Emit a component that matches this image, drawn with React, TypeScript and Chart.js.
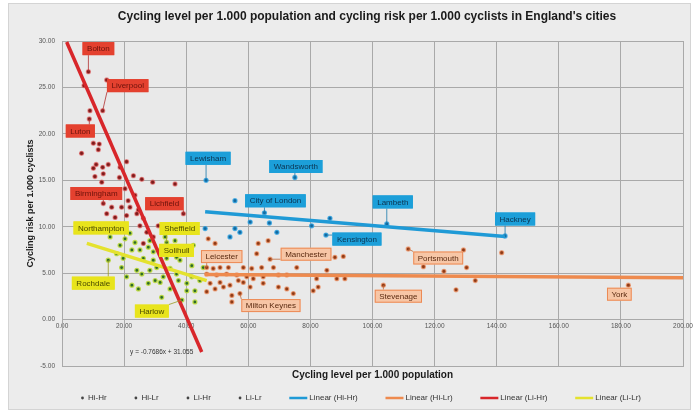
import React, { useEffect, useRef } from 'react';
import { Chart, registerables } from 'chart.js';

Chart.register(...registerables);

const chartTitle = "Cycling level per 1.000 population and cycling risk per 1.000 cyclists in England's cities";
const xAxisTitle = 'Cycling level per 1.000 population';
const yAxisTitle = 'Cycling risk per 1.000 cyclists';

const xTickValues = [0, 20, 40, 60, 80, 100, 120, 140, 160, 180, 200];
const xTickLabels = ['0.00', '20.00', '40.00', '60.00', '80.00', '100.00', '120.00', '140.00', '160.00', '180.00', '200.00'];
const yTickValues = [-5, 0, 5, 10, 15, 20, 25, 30];
const yTickLabels = ['-5.00', '0.00', '5.00', '10.00', '15.00', '20.00', '25.00', '30.00'];

const seriesNames = ['Hi-Hr', 'Hi-Lr', 'Li-Hr', 'Li-Lr'];
const trendNames = ['Linear (Hi-Hr)', 'Linear (Hi-Lr)', 'Linear (Li-Hr)', 'Linear (Li-Lr)'];

// Hi-Hr (labelled cities first)
const hiHrX = [46.4, 75.0, 65.2, 104.6, 142.7, 85.0, 55.7, 46.1, 55.7, 57.3, 60.6, 66.8, 69.2, 54.1, 80.4, 86.3];
const hiHrY = [15.0, 15.3, 11.5, 10.3, 9.0, 9.1, 12.8, 9.8, 9.8, 9.4, 10.5, 10.4, 9.4, 8.9, 10.1, 10.9];
const hiHrCities = ['Lewisham', 'Wandsworth', 'City of London', 'Lambeth', 'Hackney', 'Kensington'];

// Hi-Lr
const hiLrX = [46.6, 67.0, 57.3, 111.5, 103.5, 182.4,
  47.1, 49.3, 63.2, 66.4, 62.7, 87.9, 90.6, 75.6, 48.7, 50.9, 53.6, 58.4, 61.1, 64.3, 68.1,
  46.6, 49.8, 53.0, 56.3, 59.5, 61.6, 64.8, 69.7, 72.4, 82.0, 85.3, 88.5, 91.1,
  47.7, 50.9, 54.1, 58.4, 60.6, 64.8, 69.7, 72.4, 74.5, 80.9, 82.5, 46.6, 54.7, 54.7, 49.3, 52.0, 56.8,
  129.3, 116.4, 123.0, 130.3, 133.1, 126.9, 141.6];
const hiLrY = [5.6, 6.5, 2.8, 7.6, 3.7, 3.7,
  8.7, 8.2, 8.2, 8.5, 7.1, 6.7, 6.8, 5.6, 5.5, 5.6, 5.6, 5.6, 5.5, 5.6, 5.6,
  4.9, 4.8, 4.9, 4.8, 4.6, 4.4, 4.6, 4.8, 4.8, 4.4, 5.3, 4.4, 4.4,
  3.9, 4.0, 3.7, 4.0, 3.5, 3.9, 3.5, 3.3, 2.8, 3.1, 3.5, 3.0, 2.6, 1.9, 3.3, 3.5, 4.2,
  7.5, 5.7, 5.2, 5.6, 4.2, 3.2, 7.2];
const hiLrCities = ['Leicester', 'Manchester', 'Milton Keynes', 'Portsmouth', 'Stevenage', 'York'];

// Li-Hr
const liHrX = [8.5, 13.1, 8.8, 13.3, 39.1,
  7.1, 14.4, 9.0, 10.1, 12.0, 11.7, 6.3, 11.0, 10.1, 13.1, 14.9, 20.8, 18.7, 10.6, 13.3, 18.5, 23.0,
  25.7, 29.2, 36.4, 12.8, 16.0, 19.2, 21.9, 24.6, 14.4, 17.1, 20.8, 24.1, 26.2, 25.1, 27.3, 29.4,
  31.0, 26.2, 17.1, 20.3, 15.5, 21.3, 23.5];
const liHrY = [26.7, 22.5, 21.6, 12.5, 11.4,
  25.2, 25.8, 22.5, 19.0, 18.9, 18.3, 17.9, 16.7, 16.3, 16.4, 16.7, 17.0, 16.4, 15.4, 15.7, 15.3, 15.5,
  15.1, 14.8, 14.6, 14.8, 12.1, 12.1, 12.1, 11.8, 11.4, 11.0, 11.2, 11.4, 10.9, 10.1, 9.4, 8.9,
  10.1, 8.2, 13.7, 14.1, 13.1, 12.8, 13.4];
const liHrCities = ['Bolton', 'Liverpool', 'Luton', 'Birmingham', 'Lichfield'];

// Li-Lr
const liLrX = [15.5, 33.7, 36.9, 14.9, 38.6,
  20.3, 21.9, 23.5, 18.7, 17.6, 19.7, 19.2, 20.8, 22.5, 25.1, 26.2, 27.8, 28.3, 29.4, 31.6, 33.2,
  36.4, 24.1, 25.7, 28.3, 30.5, 30.0, 31.6, 32.6, 24.6, 27.8, 34.8, 36.9, 37.5, 40.2, 41.8, 42.8,
  40.2, 32.1, 34.8, 41.8, 42.3, 38.0, 45.5, 44.4, 29.4, 33.7, 42.8, 22.5];
const liLrY = [8.9, 8.3, 6.7, 6.4, 2.1,
  8.7, 9.3, 8.3, 8.0, 7.1, 6.6, 5.6, 4.6, 7.5, 7.5, 6.6, 7.8, 8.5, 7.3, 7.5, 8.9,
  8.5, 5.3, 4.9, 5.3, 5.6, 4.2, 4.0, 4.6, 3.3, 3.9, 5.5, 4.9, 4.2, 3.9, 4.6, 3.1,
  3.1, 2.4, 3.3, 5.8, 8.0, 6.4, 5.6, 4.2, 6.4, 6.6, 1.9, 3.7];
const liLrCities = ['Northampton', 'Sheffield', 'Solihull', 'Rochdale', 'Harlow'];

// Linear trend lines (end points)
const trendHiHrX = [46.1, 142.7];
const trendHiHrY = [11.6, 8.95];
const trendHiLrX = [46.0, 200.0];
const trendHiLrY = [4.85, 4.5];
const trendLiHrX = [1.5, 45.0];
const trendLiHrY = [29.9, -3.5];
const trendLiLrX = [8.0, 46.6];
const trendLiLrY = [8.2, 4.2];
const trendEquation = 'y = -0.7686x + 31.055';

// callout offsets (px) from point to label box centre
const hiHrCallouts = [[2, -22], [1, -11], [11, -12], [6, -22], [10, -17], [31, 4]];
const hiLrCallouts = [[15, -11], [36, -5], [31, 12], [30, 9], [15, 11], [-9, 9]];
const liHrCallouts = [[10, -23], [25, -25], [-9, 12], [-7, -10], [-19, -10]];
const liLrCallouts = [[-9, -9], [13, -14], [0, -7], [-15, 23], [-30, 11]];

const FONT = '"Liberation Sans Narrow", "Liberation Sans", Arial, sans-serif';

const styles = [
  { fill: '#15679c', halo: 'rgba(40,160,225,0.75)', line: '#1f9ad6', box: '#1c9fd9', boxBorder: '#1c9fd9', text: '#0b3350', lead: '#1677aa' },
  { fill: '#8c3a17', halo: 'rgba(240,140,90,0.65)', line: '#ee8a4e', box: '#f7c6a6', boxBorder: '#ec8a55', text: '#5a2a10', lead: '#c06a3a' },
  { fill: '#7a1c1c', halo: 'rgba(225,80,80,0.55)', line: '#d8262a', box: '#e4412f', boxBorder: '#e4412f', text: '#6b120b', lead: '#b03030' },
  { fill: '#2d6b2a', halo: 'rgba(190,220,60,0.85)', line: '#e4e22e', box: '#e8e41c', boxBorder: '#e8e41c', text: '#4a4a00', lead: '#9a9a20' },
];

const pts = (xs: number[], ys: number[]) => xs.map((x, i) => ({ x, y: ys[i] }));

const callouts = [
  { ds: 0, names: hiHrCities, offs: hiHrCallouts },
  { ds: 1, names: hiLrCities, offs: hiLrCallouts },
  { ds: 2, names: liHrCities, offs: liHrCallouts },
  { ds: 3, names: liLrCities, offs: liLrCallouts },
];

const GRID = '#a9a9a9';

export default function App() {
  const ref = useRef<HTMLCanvasElement>(null);
  useEffect(() => {
    const canvas = ref.current!;
    const scatterDs = (i: number, xs: number[], ys: number[]) => ({
      type: 'scatter' as const,
      label: seriesNames[i],
      data: pts(xs, ys),
      backgroundColor: styles[i].fill,
      borderColor: styles[i].halo,
      borderWidth: 1.3,
      pointRadius: 2,
      order: 2,
    });
    const trendDs = (i: number, xs: number[], ys: number[], order: number) => ({
      type: 'line' as const,
      label: trendNames[i],
      data: pts(xs, ys),
      borderColor: styles[i].line,
      backgroundColor: styles[i].line,
      borderWidth: 3.5,
      pointRadius: 0,
      fill: false,
      order,
    });

    const bgPlugin = {
      id: 'bgPanel',
      beforeDraw(chart: any) {
        const { ctx, chartArea, width, height } = chart;
        ctx.save();
        ctx.fillStyle = '#ffffff';
        ctx.fillRect(0, 0, width, height);
        ctx.fillStyle = '#ececec';
        ctx.fillRect(8, 3, 683, 407);
        ctx.strokeStyle = '#d4d4d4';
        ctx.lineWidth = 1;
        ctx.strokeRect(8.5, 3.5, 682, 406);
        ctx.fillStyle = '#e9e9e9';
        ctx.fillRect(chartArea.left, chartArea.top, chartArea.right - chartArea.left, chartArea.bottom - chartArea.top);
        ctx.restore();
      },
    };

    const labelPlugin = {
      id: 'callouts',
      afterDatasetsDraw(chart: any) {
        const { ctx } = chart;
        ctx.save();
        ctx.font = `8px ${FONT}`;
        ctx.textAlign = 'center';
        ctx.textBaseline = 'middle';
        // equation near the red trend line bottom end
        const redMeta = chart.getDatasetMeta(6);
        const endPt = redMeta.data[1];
        ctx.fillStyle = '#333';
        ctx.font = `6.5px ${FONT}`;
        ctx.fillText(trendEquation, endPt.x - 40, endPt.y);
        ctx.font = `8px ${FONT}`;
        callouts.forEach((c) => {
          const st = styles[c.ds];
          const meta = chart.getDatasetMeta(c.ds);
          c.names.forEach((name, i) => {
            const el = meta.data[i];
            const [dx, dy] = c.offs[i];
            const cx = el.x + dx;
            const cy = el.y + dy;
            const w = ctx.measureText(name).width + 9;
            const h = 13;
            const l = cx - w / 2, t = cy - h / 2;
            // leader line
            const nx = Math.max(l, Math.min(el.x, l + w));
            const ny = Math.max(t, Math.min(el.y, t + h));
            if (Math.hypot(nx - el.x, ny - el.y) > 3) {
              ctx.strokeStyle = st.lead;
              ctx.lineWidth = 0.8;
              ctx.beginPath();
              ctx.moveTo(nx, ny);
              ctx.lineTo(el.x, el.y);
              ctx.stroke();
            }
            ctx.fillStyle = st.box;
            ctx.fillRect(l, t, w, h);
            ctx.strokeStyle = st.boxBorder;
            ctx.lineWidth = 1;
            ctx.strokeRect(l + 0.5, t + 0.5, w - 1, h - 1);
            ctx.fillStyle = st.text;
            ctx.fillText(name, cx, cy + 0.5);
          });
        });
        ctx.restore();
      },
    };

    const chromePlugin = {
      id: 'chrome',
      afterDraw(chart: any) {
        const { ctx } = chart;
        ctx.save();
        // title
        ctx.font = `bold 12px ${FONT}`;
        ctx.fillStyle = '#1a1a1a';
        ctx.textAlign = 'center';
        ctx.textBaseline = 'middle';
        const tw = ctx.measureText(chartTitle).width;
        const target = 500;
        const sx = Math.min(1, target / tw);
        ctx.translate(367, 17);
        ctx.scale(sx, 1);
        ctx.fillText(chartTitle, 0, 0);
        ctx.restore();

        // legend
        ctx.save();
        ctx.font = `8px ${FONT}`;
        ctx.textBaseline = 'middle';
        ctx.textAlign = 'left';
        const items: { kind: string; text: string; color: string; w: number }[] = [];
        seriesNames.forEach((n) => items.push({ kind: 'dot', text: n, color: '#444', w: 7 + ctx.measureText(n).width }));
        trendNames.forEach((n, i) => items.push({ kind: 'line', text: n, color: styles[i].line, w: 20 + ctx.measureText(n).width }));
        const natural = items.reduce((s, it) => s + it.w, 0);
        const totalW = 560;
        const gap = (totalW - natural) / (items.length - 1);
        let x = 361 - totalW / 2;
        const y = 398;
        items.forEach((it) => {
          if (it.kind === 'dot') {
            ctx.fillStyle = it.color;
            ctx.beginPath();
            ctx.arc(x + 1.5, y, 1.4, 0, Math.PI * 2);
            ctx.fill();
            ctx.fillStyle = '#333';
            ctx.fillText(it.text, x + 7, y);
          } else {
            ctx.strokeStyle = it.color;
            ctx.lineWidth = 2.5;
            ctx.beginPath();
            ctx.moveTo(x, y);
            ctx.lineTo(x + 18, y);
            ctx.stroke();
            ctx.fillStyle = '#333';
            ctx.fillText(it.text, x + 20, y);
          }
          x += it.w + gap;
        });
        ctx.restore();
      },
    };

    const chart = new Chart(canvas, {
      type: 'scatter',
      data: {
        datasets: [
          scatterDs(0, hiHrX, hiHrY),
          scatterDs(1, hiLrX, hiLrY),
          scatterDs(2, liHrX, liHrY),
          scatterDs(3, liLrX, liLrY),
          trendDs(0, trendHiHrX, trendHiHrY, 1),
          trendDs(1, trendHiLrX, trendHiLrY, 1),
          trendDs(2, trendLiHrX, trendLiHrY, 0),
          trendDs(3, trendLiLrX, trendLiLrY, 1),
        ] as any,
      },
      options: {
        responsive: false,
        animation: false,
        devicePixelRatio: 1,
        layout: { padding: { top: 41, right: 16, bottom: 31, left: 0 } },
        plugins: { legend: { display: false }, title: { display: false }, tooltip: { enabled: false } },
        scales: {
          x: {
            type: 'linear',
            position: 'bottom',
            min: 0,
            max: 200,
            afterBuildTicks: (s: any) => { s.ticks = xTickValues.map((v) => ({ value: v })); },
            afterFit: (s: any) => { s.height = 15; },
            ticks: { display: false },
            grid: { color: GRID, lineWidth: 1, drawTicks: false },
            border: { display: true, color: GRID },
            title: { display: true, text: xAxisTitle, color: '#1a1a1a', font: { family: FONT, size: 10, weight: 'bold' }, padding: { top: 5, bottom: 0 } },
          },
          x2: {
            type: 'linear',
            position: { y: 0 } as any,
            axis: 'x',
            min: 0,
            max: 200,
            afterBuildTicks: (s: any) => { s.ticks = xTickValues.map((v) => ({ value: v })); },
            ticks: { color: '#555', font: { family: FONT, size: 6.5 }, padding: 3, maxRotation: 0, autoSkip: false, callback: (_v: any, i: number) => xTickLabels[i] },
            grid: { display: false, drawTicks: false },
            border: { display: false },
          },
          y: {
            type: 'linear',
            min: -5,
            max: 30,
            afterBuildTicks: (s: any) => { s.ticks = yTickValues.map((v) => ({ value: v })); },
            afterFit: (s: any) => { s.width = 62; },
            ticks: { color: '#555', font: { family: FONT, size: 6.5 }, padding: 7, autoSkip: false, callback: (_v: any, i: number) => yTickLabels[i] },
            grid: { color: GRID, lineWidth: 1, drawTicks: false },
            border: { display: true, color: GRID },
            title: { display: true, text: yAxisTitle, color: '#1a1a1a', font: { family: FONT, size: 9, weight: 'bold' }, padding: { top: 25, bottom: 0 } },
          },
        },
      } as any,
      plugins: [bgPlugin, labelPlugin, chromePlugin],
    });
    return () => chart.destroy();
  }, []);

  return (
    <div style={{ position: 'fixed', left: 0, top: 0, width: 699, height: 412, background: '#fff' }}>
      <canvas ref={ref} width={699} height={412} style={{ display: 'block', width: 699, height: 412 }} />
    </div>
  );
}
